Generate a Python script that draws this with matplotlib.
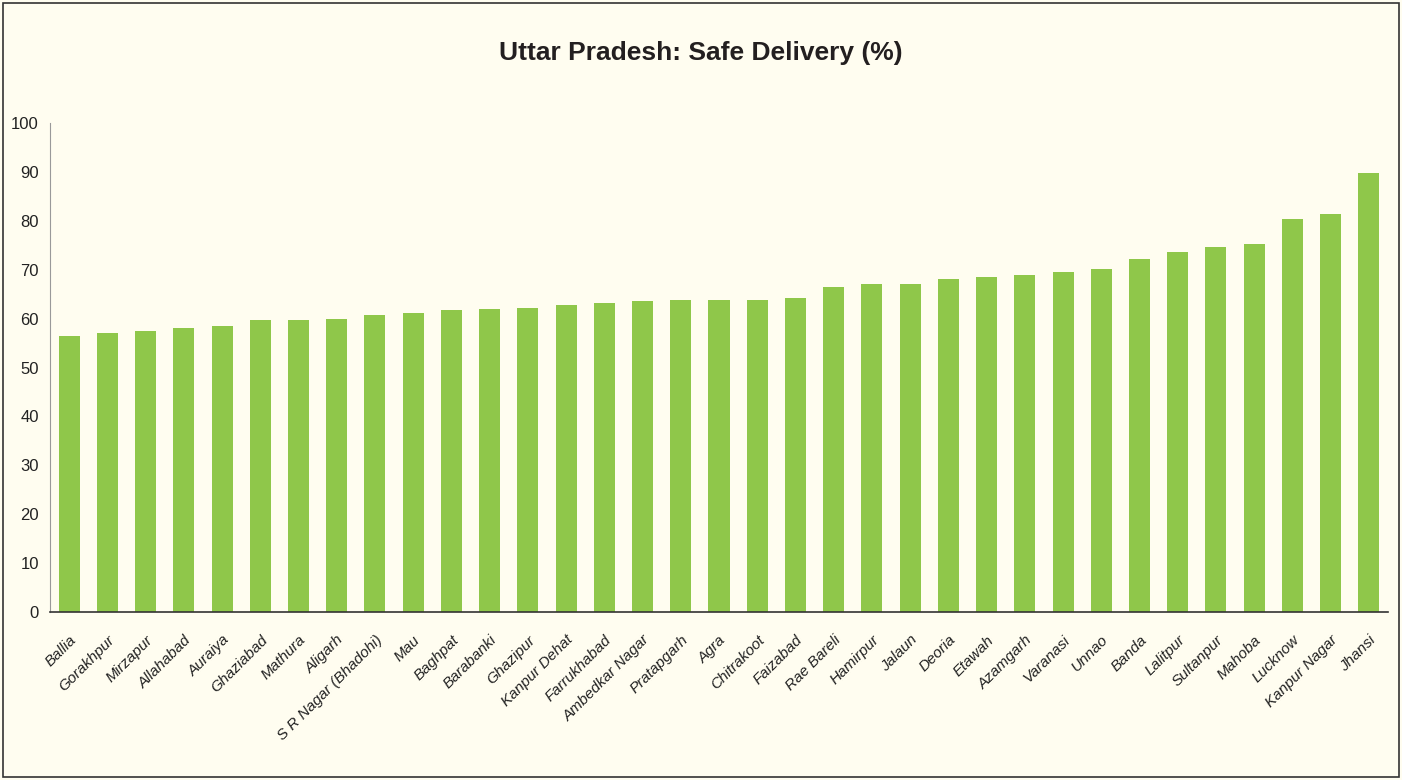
import matplotlib
matplotlib.use('Agg')
import matplotlib.pyplot as plt
from matplotlib import font_manager

# Distritos ordenados y porcentaje de partos seguros
distritos = ['Ballia', 'Gorakhpur', 'Mirzapur', 'Allahabad', 'Auraiya', 'Ghaziabad',
             'Mathura', 'Aligarh', 'S R Nagar (Bhadohi)', 'Mau', 'Baghpat', 'Barabanki',
             'Ghazipur', 'Kanpur Dehat', 'Farrukhabad', 'Ambedkar Nagar', 'Pratapgarh',
             'Agra', 'Chitrakoot', 'Faizabad', 'Rae Bareli', 'Hamirpur', 'Jalaun',
             'Deoria', 'Etawah', 'Azamgarh', 'Varanasi', 'Unnao', 'Banda', 'Lalitpur',
             'Sultanpur', 'Mahoba', 'Lucknow', 'Kanpur Nagar', 'Jhansi']
parto_seguro = [56.4, 57.1, 57.5, 58.1, 58.5, 59.7, 59.7, 59.9, 60.7, 61.1, 61.8, 62.0,
                62.2, 62.8, 63.2, 63.6, 63.8, 63.8, 63.8, 64.2, 66.5, 67.1, 67.1, 68.1,
                68.5, 68.9, 69.5, 70.1, 72.2, 73.6, 74.6, 75.3, 80.4, 81.4, 89.8]
ticks_y = [0, 10, 20, 30, 40, 50, 60, 70, 80, 90, 100]

nombres = {f.name for f in font_manager.fontManager.ttflist}
fuente = 'Liberation Sans Narrow' if 'Liberation Sans Narrow' in nombres else 'Liberation Sans'
plt.rcParams['font.family'] = [fuente, 'DejaVu Sans']

fondo = '#fffdf0'
fig = plt.figure(figsize=(14.02, 7.8), dpi=100, facecolor=fondo)
ax = fig.add_axes([50 / 1402, 168 / 780, 1338 / 1402, 489 / 780], facecolor=fondo)

x = range(len(distritos))
ax.bar(x, parto_seguro, width=0.55, color='#8fc74a')

ax.set_xlim(-0.5, len(distritos) - 0.5)
ax.set_ylim(0, 100)
ax.set_yticks(ticks_y)
ax.set_yticklabels([str(t) for t in ticks_y], fontsize=12, color='#222222')
ax.set_xticks(list(x))
ax.set_xticklabels(distritos, rotation=45, ha='right', rotation_mode='anchor',
                   fontsize=11, style='italic', color='#222222')
ax.tick_params(axis='both', length=0, pad=8)
ax.tick_params(axis='x', pad=15)

for lado in ['top', 'right']:
    ax.spines[lado].set_visible(False)
ax.spines['left'].set_color('#999999')
ax.spines['bottom'].set_color('#333333')
ax.spines['bottom'].set_linewidth(1.2)

fig.text(0.5, 1 - 53 / 780, 'Uttar Pradesh: Safe Delivery (%)', ha='center', va='center',
         fontsize=19, fontweight='bold', color='#231f20')

# Marco exterior
marco = plt.Rectangle((3 / 1402, 3 / 780), 1 - 6 / 1402, 1 - 6 / 780, transform=fig.transFigure,
                      fill=False, edgecolor='#333333', linewidth=1.2)
fig.patches.append(marco)

fig.savefig('out.png', dpi=100, facecolor=fondo)
